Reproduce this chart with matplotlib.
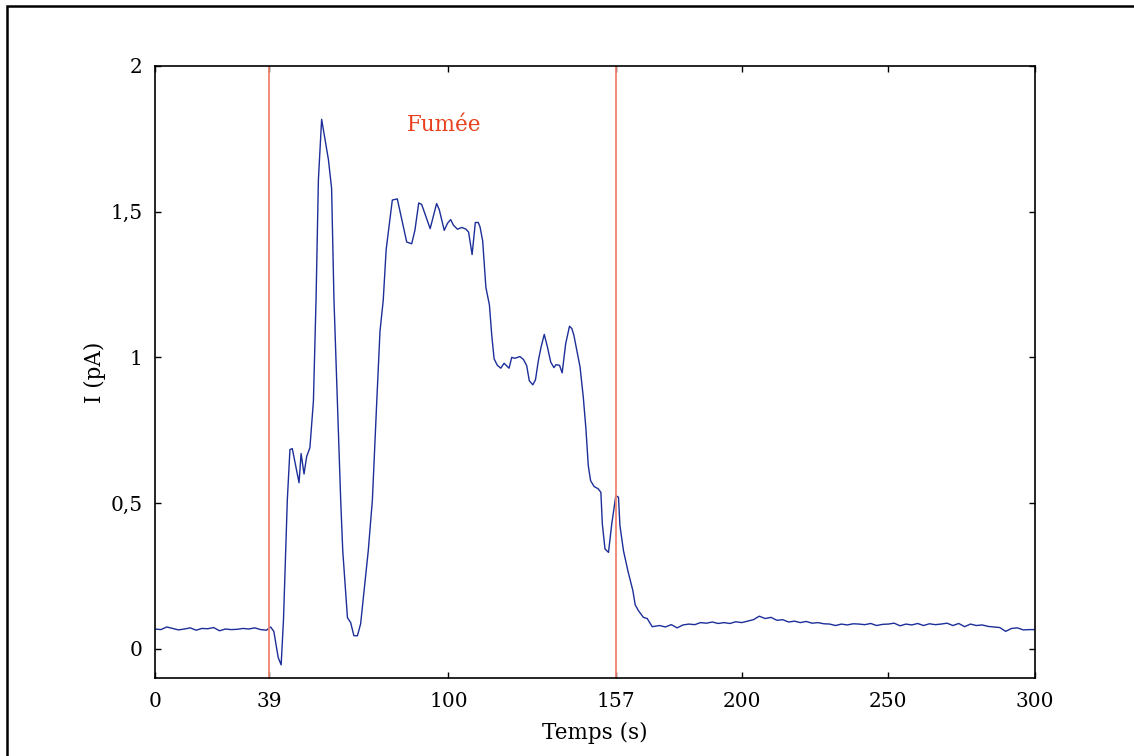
import numpy as np
import matplotlib
matplotlib.use("Agg")
import matplotlib.pyplot as plt
from matplotlib.patches import Rectangle

# time (s) and current (pA)
temps = [0, 2, 4, 6, 8, 10, 12, 14, 16, 18, 20, 22, 24, 26, 28, 30, 32, 34, 36, 38,
         39.4, 40.5, 42, 43, 43.8, 45.1, 46, 46.8, 49.1, 49.8, 50.8, 51.7, 52.8, 54,
         54.9, 55.7, 56.8, 59.1, 60.2, 61, 63.3, 64, 65.6, 66.7, 67.8, 69, 70.1, 72.7,
         74.1, 75.6, 76.7, 77.8, 78.8, 80.9, 82.6, 85.8, 87.5, 88.6, 89.9, 90.9, 92.6,
         93.8, 96, 96.9, 98.6, 99.7, 100.8, 101.7, 103.1, 104.6, 106, 106.9, 108.1,
         109.2, 110.2, 110.8, 111.7, 112.8, 114, 114.8, 115.6, 116.7, 117.9, 119, 120.7,
         121.6, 122.7, 124.4, 125.6, 126.7, 127.6, 128.8, 129.7, 130.7, 131.6, 132.7,
         133.8, 134.9, 136, 136.7, 137.9, 138.8, 140, 141.3, 142.1, 142.8, 143.8, 144.9,
         146, 146.9, 147.7, 148.5, 149.7, 151.1, 152, 152.5, 153.4, 154.6, 155.7, 157.1,
         158, 158.5, 159.7, 161.2, 162.9, 163.7, 164.8, 166.5, 167.8, 169.5,
         172, 174, 176, 178, 180, 182, 184, 186, 188, 190, 192, 194, 196, 198, 200,
         202, 204, 206, 208, 210, 212, 214, 216, 218, 220, 222, 224, 226, 228, 230,
         232, 234, 236, 238, 240, 242, 244, 246, 248, 250, 252, 254, 256, 258, 260,
         262, 264, 266, 268, 270, 272, 274, 276, 278, 280, 282, 284, 286, 288, 290,
         292, 294, 296, 298, 300]
courant = [0.068, 0.066, 0.075, 0.070, 0.065, 0.068, 0.072, 0.064, 0.070, 0.069,
           0.073, 0.062, 0.068, 0.066, 0.067, 0.070, 0.068, 0.072, 0.066, 0.064,
           0.075, 0.060, -0.030, -0.055, 0.10, 0.51, 0.684, 0.687, 0.57, 0.67, 0.60,
           0.66, 0.69, 0.85, 1.20, 1.61, 1.817, 1.68, 1.58, 1.20, 0.51, 0.337, 0.107,
           0.09, 0.045, 0.045, 0.086, 0.337, 0.51, 0.85, 1.09, 1.196, 1.37, 1.54,
           1.544, 1.396, 1.39, 1.436, 1.53, 1.525, 1.477, 1.442, 1.528, 1.507, 1.436,
           1.46, 1.473, 1.454, 1.44, 1.446, 1.44, 1.43, 1.353, 1.463, 1.463, 1.448,
           1.40, 1.24, 1.18, 1.076, 0.995, 0.973, 0.963, 0.98, 0.963, 1.0, 0.997,
           1.003, 0.993, 0.972, 0.92, 0.906, 0.923, 0.99, 1.035, 1.079, 1.035, 0.984,
           0.965, 0.975, 0.973, 0.947, 1.047, 1.107, 1.099, 1.076, 1.024, 0.967,
           0.864, 0.755, 0.629, 0.577, 0.557, 0.549, 0.537, 0.428, 0.343, 0.331,
           0.428, 0.526, 0.52, 0.423, 0.337, 0.268, 0.20, 0.151, 0.131, 0.108, 0.104,
           0.076,
           0.080, 0.075, 0.083, 0.072, 0.082, 0.085, 0.083, 0.090, 0.088, 0.092,
           0.087, 0.090, 0.087, 0.093, 0.090, 0.095, 0.100, 0.112, 0.104, 0.108,
           0.098, 0.100, 0.092, 0.095, 0.090, 0.094, 0.088, 0.090, 0.086, 0.085,
           0.080, 0.085, 0.082, 0.086, 0.085, 0.083, 0.087, 0.080, 0.084, 0.085,
           0.088, 0.079, 0.085, 0.082, 0.087, 0.080, 0.086, 0.083, 0.085, 0.088,
           0.080, 0.087, 0.076, 0.085, 0.080, 0.082, 0.077, 0.075, 0.073, 0.060,
           0.070, 0.072, 0.065, 0.066, 0.066]

debut_fumee = 39
fin_fumee = 157
xticks = [0, 39, 100, 157, 200, 250, 300]
yticks = [0, 0.5, 1, 1.5, 2]
ytick_labels = ["0", "0,5", "1", "1,5", "2"]

plt.rcParams['font.family'] = ['DejaVu Serif']
plt.rcParams['font.size'] = 14.5

fig = plt.figure(figsize=(11.34, 7.56), dpi=100)
ax = fig.add_axes([0.1367, 0.1032, 0.776, 0.8095])

ax.plot(temps, courant, color='#1c2e98', lw=1.0)
ax.axvline(debut_fumee, color='#f08470', lw=1.3)
ax.axvline(fin_fumee, color='#f08470', lw=1.3)
ax.text(98.5, 1.797, "Fumée", color='#e8401c', ha='center', va='center', fontsize=15.5)

ax.set_xlim(0, 300)
ax.set_ylim(-0.1, 2)
ax.set_xticks(xticks)
ax.set_yticks(yticks)
ax.set_yticklabels(ytick_labels)
ax.tick_params(direction='in', length=4, width=1, top=True, right=True)
ax.tick_params(axis='x', pad=10)
ax.tick_params(axis='y', pad=9)
for s in ax.spines.values():
    s.set_linewidth(1.2)

ax.set_xlabel('Temps (s)', fontsize=15.5, labelpad=8)
ax.set_ylabel('I (pA)', fontsize=15.5, labelpad=3)

# frame around the whole picture
fig.add_artist(Rectangle((0.0062, -0.1), 1.2, 1.092, transform=fig.transFigure,
                         fill=False, lw=1.8, ec='black', clip_on=False))

plt.savefig("out.png", dpi=100)
